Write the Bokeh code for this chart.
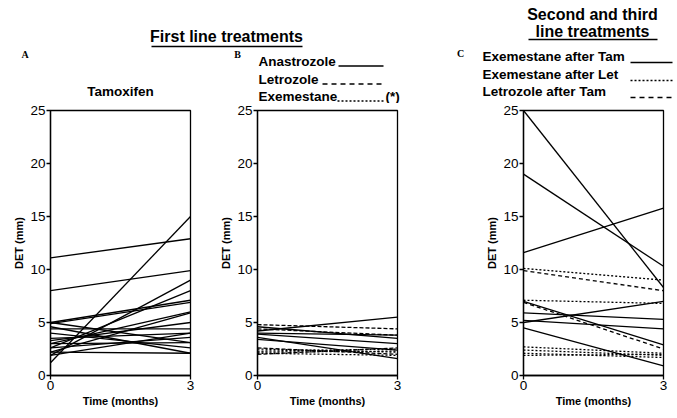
from bokeh.plotting import figure
from bokeh.layouts import column, row
from bokeh.models import Range1d, Label, FixedTicker
from bokeh.embed import file_html
from bokeh.resources import INLINE

# ---------------- data ----------------
months = [0, 3]
y_ticks = [0, 5, 10, 15, 20, 25]

# Panel A: Tamoxifen (first line)
tam_0 = [11.1, 8.0, 1.2, 1.9, 2.6, 5.0, 4.9, 2.2, 3.0, 4.4, 5.0, 4.0, 3.5, 2.6, 2.2, 3.0, 4.6, 1.9, 3.3]
tam_3 = [12.9, 9.9, 15.0, 9.0, 8.0, 7.1, 6.9, 5.9, 6.0, 4.4, 3.1, 2.6, 4.0, 3.6, 2.1, 3.1, 2.1, 4.0, 5.0]

# Panel B: first line aromatase inhibitors
ana_0 = [4.2, 4.6, 3.9, 3.4, 3.6, 4.0]
ana_3 = [5.5, 3.5, 3.0, 2.4, 1.6, 3.8]
let_0 = [4.8, 4.4, 2.0, 2.6]
let_3 = [4.4, 3.8, 2.6, 2.0]
exe_0 = [2.5, 2.3, 2.1, 2.2]
exe_3 = [2.2, 2.5, 1.9, 2.3]

# Panel C: second and third line
exe_tam_0 = [25.0, 19.0, 11.6, 5.0, 5.9, 7.0, 5.2, 4.5]
exe_tam_3 = [8.3, 10.3, 15.8, 7.0, 5.3, 2.9, 4.4, 0.9]
exe_let_0 = [10.1, 7.1, 2.7, 2.4, 2.1, 1.9]
exe_let_3 = [9.0, 6.8, 2.1, 1.9, 1.7, 2.0]
let_tam_0 = [9.9, 6.9]
let_tam_3 = [8.0, 2.5]

FONT = "Liberation Sans"
SERIF = "Liberation Serif"
LW = 1.3
HDR_H = 103


def panel(left, right):
    p = figure(frame_width=140, frame_height=265,
               min_border_left=left, min_border_right=right,
               min_border_top=7, min_border_bottom=43,
               x_range=Range1d(0, 3), y_range=Range1d(0, 25),
               output_backend="svg", toolbar_location=None, tools="")
    p.grid.visible = False
    p.outline_line_color = "black"
    p.outline_line_width = LW
    p.xaxis.ticker = FixedTicker(ticks=months)
    p.yaxis.ticker = FixedTicker(ticks=y_ticks)
    p.axis.minor_tick_line_color = None
    p.axis.major_tick_in = 0
    p.axis.major_tick_out = 4
    p.axis.axis_line_color = "black"
    p.axis.axis_line_width = LW
    p.axis.major_tick_line_width = LW
    p.axis.major_label_text_font = FONT
    p.axis.major_label_text_font_size = "13.5px"
    p.axis.major_label_text_color = "black"
    p.axis.major_label_standoff = 1
    p.xaxis.axis_label = "Time (months)"
    p.yaxis.axis_label = "DET (mm)"
    p.axis.axis_label_text_font = FONT
    p.axis.axis_label_text_font_style = "bold"
    p.axis.axis_label_text_font_size = "11px"
    p.axis.axis_label_text_color = "black"
    p.axis.axis_label_standoff = 2
    return p


# ---------------- header (titles, panel letters, legends) ----------------
hdr = figure(width=677, height=HDR_H, x_range=Range1d(0, 677), y_range=Range1d(HDR_H, 0),
             min_border=0, x_axis_location=None, y_axis_location=None,
             output_backend="svg", toolbar_location=None, tools="")
hdr.grid.visible = False
hdr.outline_line_color = None


def txt(x, y, s, size="13.5px", font=FONT, align="left", style="bold"):
    hdr.add_layout(Label(x=x, y=y, text=s, text_font=font, text_font_size=size,
                         text_font_style=style, text_align=align,
                         text_baseline="middle", text_color="black"))


def sample(x0, x1, y, dash, w=LW):
    hdr.line(x=[x0, x1], y=[y, y], line_color="black", line_width=w, line_dash=dash)


txt(226, 35.5, "First line treatments", size="16px", align="center")
txt(592, 13.5, "Second and third", size="16px", align="center")
txt(592, 31, "line treatments", size="16px", align="center")
sample(151, 302, 46, "solid")
sample(528, 657, 39, "solid")

txt(24.5, 54, "A", size="10px", font=SERIF, align="center")
txt(237, 54, "B", size="10px", font=SERIF, align="center")
txt(460, 53, "C", size="10px", font=SERIF, align="center")
txt(120, 90.5, "Tamoxifen", align="center")

txt(258, 60.5, "Anastrozole")
txt(258, 79, "Letrozole")
txt(258, 95.5, "Exemestane")
txt(385, 95.5, "(*)")
sample(338, 383, 65.5, "solid")
sample(322, 383, 83.5, "5 4")
sample(337, 384, 100.5, "2 2", 1.5)

txt(482, 56, "Exemestane after Tam")
txt(482, 74, "Exemestane after Let")
txt(482, 91, "Letrozole after Tam")
sample(630, 672, 62, "solid")
sample(630, 672, 80, "2 2", 1.5)
sample(630, 672, 97, "5 4")

# ---------------- panel A ----------------
pA = panel(50, 20)
pA.segment(x0=months[0], y0=tam_0, x1=months[1], y1=tam_3, line_color="black", line_width=LW)

# ---------------- panel B ----------------
pB = panel(47, 20)
pB.segment(x0=months[0], y0=ana_0, x1=months[1], y1=ana_3, line_color="black", line_width=LW)
pB.segment(x0=months[0], y0=let_0, x1=months[1], y1=let_3, line_color="black",
           line_width=LW, line_dash="4 2")
pB.segment(x0=months[0], y0=exe_0, x1=months[1], y1=exe_3, line_color="black",
           line_width=LW, line_dash="2 2")

# ---------------- panel C ----------------
pC = panel(106, 14)
pC.segment(x0=months[0], y0=exe_tam_0, x1=months[1], y1=exe_tam_3, line_color="black", line_width=LW)
pC.segment(x0=months[0], y0=exe_let_0, x1=months[1], y1=exe_let_3, line_color="black",
           line_width=LW, line_dash="2 2")
pC.segment(x0=months[0], y0=let_tam_0, x1=months[1], y1=let_tam_3, line_color="black",
           line_width=LW, line_dash="4 3")

layout = column(hdr, row(pA, pB, pC, spacing=0), spacing=0)

with open("out.html", "w") as f:
    f.write(file_html(layout, INLINE))
